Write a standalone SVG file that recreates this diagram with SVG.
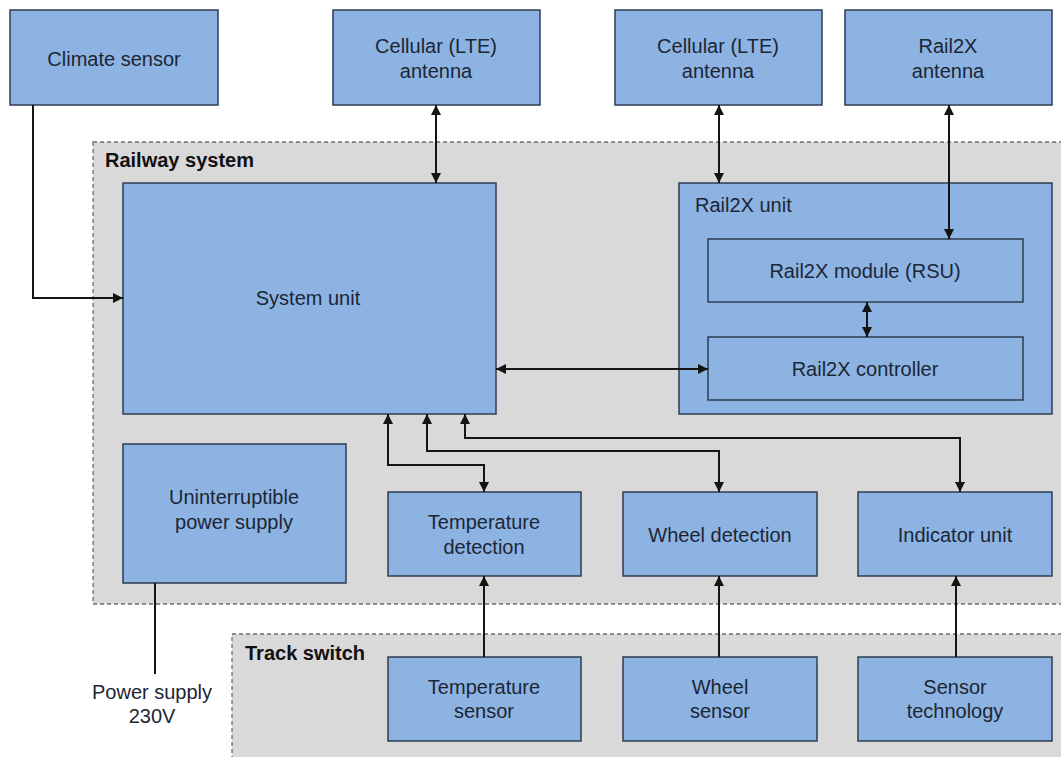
<svg xmlns="http://www.w3.org/2000/svg" width="1061" height="757" viewBox="0 0 1061 757">
<style>
.box{fill:#8db3e2;stroke:#2e3d52;stroke-width:1.5}
.grp{fill:#d9d9d9;stroke:#6f6f6f;stroke-width:1.3;stroke-dasharray:4 3}
.t{font-family:"Liberation Sans",Arial,sans-serif;font-size:20px;fill:#1c2635;text-anchor:middle}
.tl{font-family:"Liberation Sans",Arial,sans-serif;font-size:20px;fill:#1c2635}
.b{font-family:"Liberation Sans",Arial,sans-serif;font-size:20px;font-weight:bold;fill:#111}
.c{fill:none;stroke:#141414;stroke-width:2}
</style>
<defs>
<marker id="ah" viewBox="0 0 10 10" refX="10" refY="5" markerWidth="5" markerHeight="5" orient="auto-start-reverse" markerUnits="strokeWidth">
<path d="M0,0 L10,5 L0,10 z" fill="#141414"/>
</marker>
</defs>
<rect width="1061" height="757" fill="#fff"/>
<g id="railway-system">
<rect class="grp" x="93" y="142" width="975" height="462"/>
<text class="b" x="105" y="167">Railway system</text>
</g>
<g id="track-switch">
<rect class="grp" x="232" y="634" width="836" height="130"/>
<text class="b" x="245" y="660">Track switch</text>
</g>
<g id="climate-sensor">
<rect class="box" x="10" y="10" width="208" height="95"/>
<text class="t" x="114" y="66">Climate sensor</text>
</g>
<g id="cellular1">
<rect class="box" x="333" y="10" width="207" height="95"/>
<text class="t" x="436" y="53">Cellular (LTE)</text>
<text class="t" x="436" y="78">antenna</text>
</g>
<g id="cellular2">
<rect class="box" x="615" y="10" width="207" height="95"/>
<text class="t" x="718" y="53">Cellular (LTE)</text>
<text class="t" x="718" y="78">antenna</text>
</g>
<g id="rail2x-antenna">
<rect class="box" x="845" y="10" width="207" height="95"/>
<text class="t" x="948" y="53">Rail2X</text>
<text class="t" x="948" y="78">antenna</text>
</g>
<g id="system-unit">
<rect class="box" x="123" y="183" width="373" height="231"/>
<text class="t" x="308" y="305">System unit</text>
</g>
<g id="rail2x-unit">
<rect class="box" x="679" y="183" width="373" height="231"/>
<text class="tl" x="695" y="212">Rail2X unit</text>
</g>
<g id="rail2x-module">
<rect class="box" x="708" y="239" width="315" height="63"/>
<text class="t" x="865" y="278">Rail2X module (RSU)</text>
</g>
<g id="rail2x-controller">
<rect class="box" x="708" y="337" width="315" height="63"/>
<text class="t" x="865" y="376">Rail2X controller</text>
</g>
<g id="ups">
<rect class="box" x="123" y="444" width="223" height="139"/>
<text class="t" x="234" y="504">Uninterruptible</text>
<text class="t" x="234" y="529">power supply</text>
</g>
<g id="temperature-detection">
<rect class="box" x="388" y="492" width="193" height="84"/>
<text class="t" x="484" y="529">Temperature</text>
<text class="t" x="484" y="554">detection</text>
</g>
<g id="wheel-detection">
<rect class="box" x="623" y="492" width="194" height="84"/>
<text class="t" x="720" y="542">Wheel detection</text>
</g>
<g id="indicator-unit">
<rect class="box" x="858" y="492" width="194" height="84"/>
<text class="t" x="955" y="542">Indicator unit</text>
</g>
<g id="temperature-sensor">
<rect class="box" x="388" y="657" width="193" height="84"/>
<text class="t" x="484" y="694">Temperature</text>
<text class="t" x="484" y="718">sensor</text>
</g>
<g id="wheel-sensor">
<rect class="box" x="623" y="657" width="194" height="84"/>
<text class="t" x="720" y="694">Wheel</text>
<text class="t" x="720" y="718">sensor</text>
</g>
<g id="sensor-technology">
<rect class="box" x="858" y="657" width="194" height="84"/>
<text class="t" x="955" y="694">Sensor</text>
<text class="t" x="955" y="718">technology</text>
</g>
<g id="power-supply">
<text class="t" x="152" y="699">Power supply</text>
<text class="t" x="152" y="723">230V</text>
</g>
<g id="connectors">
<path class="c" d="M33,105 V298 H123" marker-end="url(#ah)"/>
<path class="c" d="M436,105 V183" marker-start="url(#ah)" marker-end="url(#ah)"/>
<path class="c" d="M719,105 V183" marker-start="url(#ah)" marker-end="url(#ah)"/>
<path class="c" d="M949,105 V239" marker-start="url(#ah)" marker-end="url(#ah)"/>
<path class="c" d="M867,302 V337" marker-start="url(#ah)" marker-end="url(#ah)"/>
<path class="c" d="M496,369 H708" marker-start="url(#ah)" marker-end="url(#ah)"/>
<path class="c" d="M388,414 V465 H484 V492" marker-start="url(#ah)" marker-end="url(#ah)"/>
<path class="c" d="M427,414 V451 H719 V492" marker-start="url(#ah)" marker-end="url(#ah)"/>
<path class="c" d="M465,414 V438 H960 V492" marker-start="url(#ah)" marker-end="url(#ah)"/>
<path class="c" d="M484,657 V576" marker-end="url(#ah)"/>
<path class="c" d="M719,657 V576" marker-end="url(#ah)"/>
<path class="c" d="M956,657 V576" marker-end="url(#ah)"/>
<path class="c" d="M155,583 V674"/>
</g>
</svg>
